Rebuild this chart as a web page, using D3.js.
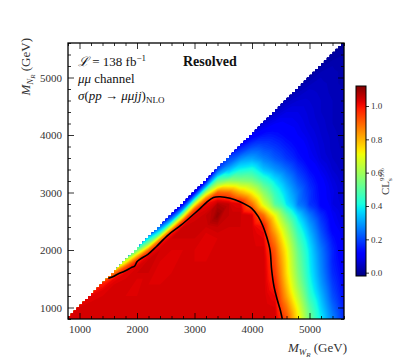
<!DOCTYPE html>
<html>
<head>
<meta charset="utf-8">
<script src="https://cdn.jsdelivr.net/npm/d3@7"></script>
<style>
  body { margin: 0; background: #fff; }
  svg text { font-family: "Liberation Serif", "DejaVu Serif", serif; }
  .tick line { stroke: #000; stroke-width: 0.8; }
  .tick text { fill: #333; }
</style>
</head>
<body>
<svg id="chart" width="407" height="359"></svg>
<script>
// W_R mass of each scan column (GeV)
const massWR = [800, 1000, 1200, 1400, 1600, 1800, 2000, 2200, 2400, 2600, 2800, 3000, 3200,
  3400, 3600, 3800, 4000, 4200, 4400, 4600, 4800, 5000, 5200, 5400, 5600];
// distance below the diagonal, M_WR - M_NR (GeV), of each value in a column
const massGap = [0, 100, 200, 300, 400, 600, 800, 1000, 1200, 1400, 1600, 1800, 2000, 2200,
  2400, 2600, 2800, 3000, 3200, 3400, 3600, 3800, 4000, 4200, 4400, 4600, 4800];
// CLs, one list per W_R column, from the diagonal down to M_NR = 800
const clsColumns = [
  [1.03],
  [1.03, 1.03, 1.03],
  [1.02, 1.03, 1.03, 1.03, 1.03],
  [0.99, 1.02, 1.03, 1.03, 1.03, 1.03],
  [0.88, 1.01, 1.03, 1.03, 1.03, 1.03, 1.03],
  [0.68, 0.92, 1.02, 1.03, 1.03, 1.03, 1.03, 1.03],
  [0.52, 0.78, 0.99, 1.03, 1.04, 1.02, 1.03, 1.03, 1.03],
  [0.38, 0.6, 0.88, 1.02, 1.05, 1.04, 1.03, 1.03, 1.03, 1.03],
  [0.25, 0.44, 0.8, 1.01, 1.04, 1.03, 1.02, 1.03, 1.03, 1.03, 1.03],
  [0.16, 0.35, 0.72, 0.99, 1.04, 1.03, 1.02, 1.03, 1.03, 1.03, 1.03, 1.03],
  [0.11, 0.3, 0.65, 0.93, 1.04, 1.04, 1.03, 1.03, 1.03, 1.03, 1.03, 1.03, 1.03],
  [0.1, 0.33, 0.68, 0.92, 1.03, 1.05, 1.04, 1.03, 1.03, 1.03, 1.03, 1.03, 1.03, 1.03],
  [0.12, 0.32, 0.62, 0.85, 1.01, 1.05, 1.04, 1.02, 1.02, 1.03, 1.03, 1.03, 1.03, 1.03, 1.03],
  [0.2, 0.33, 0.52, 0.68, 0.9, 1.07, 1.1, 1.05, 1.03, 1.03, 1.03, 1.03, 1.03, 1.03, 1.03, 1.03],
  [0.2, 0.25, 0.33, 0.42, 0.58, 0.89, 1.05, 1.05, 1.04, 1.03, 1.03, 1.03, 1.03, 1.03, 1.03, 1.03, 1.03],
  [0.14, 0.2, 0.27, 0.34, 0.4, 0.57, 0.8, 1.02, 1.05, 1.04, 1.03, 1.03, 1.03, 1.03, 1.03, 1.03, 1.03, 1.03],
  [0.1, 0.15, 0.2, 0.25, 0.3, 0.42, 0.55, 0.72, 0.88, 1.03, 1.035, 1.035, 1.035, 1.035, 1.035, 1.035, 1.035, 1.035, 1.035],
  [0.07, 0.1, 0.14, 0.17, 0.2, 0.26, 0.34, 0.46, 0.58, 0.68, 0.89, 1.0, 1.02, 1.035, 1.04, 1.04, 1.04, 1.04, 1.04, 1.04],
  [0.05, 0.075, 0.1, 0.12, 0.14, 0.18, 0.22, 0.29, 0.38, 0.45, 0.5, 0.71, 0.79, 0.86, 0.91, 0.93, 0.95, 0.98, 1.01, 1.03, 1.035],
  [0.04, 0.06, 0.08, 0.09, 0.1, 0.12, 0.15, 0.18, 0.24, 0.3, 0.35, 0.38, 0.52, 0.61, 0.67, 0.72, 0.74, 0.75, 0.78, 0.82, 0.88, 0.93],
  [0.03, 0.045, 0.06, 0.07, 0.08, 0.09, 0.1, 0.12, 0.14, 0.18, 0.22, 0.26, 0.26, 0.37, 0.43, 0.48, 0.52, 0.54, 0.56, 0.59, 0.64, 0.7, 0.74],
  [0.02, 0.035, 0.05, 0.055, 0.06, 0.065, 0.07, 0.08, 0.09, 0.1, 0.13, 0.16, 0.18, 0.18, 0.26, 0.31, 0.35, 0.38, 0.39, 0.4, 0.42, 0.45, 0.5, 0.54],
  [0.015, 0.03, 0.04, 0.042, 0.045, 0.05, 0.05, 0.055, 0.06, 0.065, 0.07, 0.09, 0.11, 0.12, 0.115, 0.17, 0.2, 0.23, 0.26, 0.27, 0.28, 0.3, 0.33, 0.36, 0.39],
  [0.01, 0.02, 0.03, 0.032, 0.035, 0.035, 0.04, 0.04, 0.04, 0.045, 0.045, 0.05, 0.06, 0.075, 0.085, 0.08, 0.1, 0.11, 0.14, 0.16, 0.16, 0.17, 0.19, 0.21, 0.24, 0.27],
  [0.005, 0.012, 0.02, 0.022, 0.025, 0.025, 0.03, 0.03, 0.03, 0.03, 0.035, 0.035, 0.035, 0.04, 0.05, 0.06, 0.06, 0.07, 0.075, 0.085, 0.095, 0.105, 0.11, 0.12, 0.13, 0.15, 0.17]
];
// the CLs = 1 exclusion line
const limitWR = [1500, 1580, 1670, 1790, 1900, 1960, 2000, 2050, 2190, 2335, 2540, 2770, 3000, 3100,
  3210, 3330, 3445, 3620, 3790, 3995, 4110, 4195, 4255, 4313, 4342, 4383, 4441, 4487, 4527];
const limitNR = [1510, 1535, 1583, 1635, 1693, 1722, 1795, 1838, 1925, 2057, 2260, 2435, 2635, 2725,
  2830, 2915, 2927, 2900, 2840, 2725, 2580, 2405, 2230, 2000, 1652, 1362, 1130, 974, 800];

const axisTicks = [1000, 2000, 3000, 4000, 5000];
const colorTicks = [0, 0.2, 0.4, 0.6, 0.8, 1.0];

const MASS_MIN = 800;
const MASS_MAX = 5600;
const CLS_MIN = -0.02;
const CLS_MAX = 1.12;
const PLOT = {left: 68, top: 43, size: 276};
const BAR = {x: 356, top: 86, width: 10, height: 190};

const svg = d3.select('#chart');
const defs = svg.append('defs');

const x = d3.scaleLinear().domain([MASS_MIN, MASS_MAX]).range([PLOT.left, PLOT.left + PLOT.size]);
const y = d3.scaleLinear().domain([MASS_MIN, MASS_MAX]).range([PLOT.top + PLOT.size, PLOT.top]);

// matplotlib "jet"
const jetR = d3.scaleLinear([0, 0.35, 0.66, 0.89, 1], [0, 0, 1, 1, 0.5]).clamp(true);
const jetG = d3.scaleLinear([0, 0.125, 0.375, 0.64, 0.91, 1], [0, 0, 1, 1, 0, 0]).clamp(true);
const jetB = d3.scaleLinear([0, 0.11, 0.34, 0.65, 1], [0.5, 1, 1, 0, 0]).clamp(true);
const clsNorm = d3.scaleLinear().domain([CLS_MIN, CLS_MAX]).range([0, 1]).clamp(true);
function jet(v) {
  const t = clsNorm(v);
  return d3.rgb(255 * jetR(t), 255 * jetG(t), 255 * jetB(t)).formatHex();
}

// staircase edge of the scanned triangle (M_NR <= M_WR)
const stairs = [[MASS_MAX, MASS_MIN], [MASS_MIN, MASS_MIN]];
for (let m = MASS_MIN; m < MASS_MAX; m += 50) stairs.push([m, m + 50], [m + 50, m + 50]);
defs.append('clipPath').attr('id', 'scan-clip')
    .append('path')
    .attr('d', d3.line().x(d => x(d[0])).y(d => y(d[1]))(stairs) + 'Z');

// grid in (W_R column, gap row); rows below M_NR = 800 repeat the last value
const nx = massWR.length;
const ny = massGap.length;
const values = new Array(nx * ny);
clsColumns.forEach((col, i) => {
  for (let k = 0; k < ny; k++) values[k * nx + i] = col[Math.min(k, col.length - 1)];
});
const colToMass = d3.scaleLinear().domain([0, nx - 1]).range([massWR[0], massWR[nx - 1]]);
const rowToGap = d3.scaleLinear().domain(d3.range(ny)).range(massGap);
const gridToScreen = d3.geoTransform({
  point(gx, gy) {
    const w = colToMass(gx - 0.5);
    const n = w - rowToGap(gy - 0.5);
    this.stream.point(x(w), y(n));
  }
});

const thresholds = d3.range(CLS_MIN, CLS_MAX, 0.01);
const bands = d3.contours().size([nx, ny]).thresholds(thresholds)(values);

svg.append('g')
    .attr('clip-path', 'url(#scan-clip)')
    .selectAll('path')
    .data(bands)
    .join('path')
    .attr('d', d3.geoPath(gridToScreen))
    .attr('fill', d => jet(d.value + 0.005));

// exclusion line
svg.append('path')
    .datum(d3.zip(limitWR, limitNR))
    .attr('d', d3.line().curve(d3.curveCatmullRom).x(d => x(d[0])).y(d => y(d[1])))
    .attr('fill', 'none')
    .attr('stroke', '#000')
    .attr('stroke-width', 1.6);

// axes, ticks pointing inward on all four sides
const minorTicks = d3.range(MASS_MIN, MASS_MAX + 1, 200).filter(v => v % 1000 !== 0);
const bottom = PLOT.top + PLOT.size;
const right = PLOT.left + PLOT.size;

function drawAxis(axis, translate, ticks, size, labelled) {
  const g = svg.append('g')
      .attr('transform', translate)
      .call(axis.tickValues(ticks).tickSizeInner(-size).tickSizeOuter(0).tickPadding(6)
          .tickFormat(labelled ? d3.format('d') : ''));
  g.select('.domain').remove();
  g.selectAll('text').attr('font-size', 11).attr('font-family', null);
  return g;
}
drawAxis(d3.axisBottom(x), `translate(0,${bottom})`, axisTicks, 6, true);
drawAxis(d3.axisBottom(x), `translate(0,${bottom})`, minorTicks, 3, false);
drawAxis(d3.axisTop(x), `translate(0,${PLOT.top})`, axisTicks, 6, false);
drawAxis(d3.axisTop(x), `translate(0,${PLOT.top})`, minorTicks, 3, false);
drawAxis(d3.axisLeft(y), `translate(${PLOT.left},0)`, axisTicks, 6, true);
drawAxis(d3.axisLeft(y), `translate(${PLOT.left},0)`, minorTicks, 3, false);
drawAxis(d3.axisRight(y), `translate(${right},0)`, axisTicks, 6, false);
drawAxis(d3.axisRight(y), `translate(${right},0)`, minorTicks, 3, false);

svg.append('rect')
    .attr('x', PLOT.left)
    .attr('y', PLOT.top)
    .attr('width', PLOT.size)
    .attr('height', PLOT.size)
    .attr('fill', 'none')
    .attr('stroke', '#000')
    .attr('stroke-width', 1.3);

// axis titles
const xTitle = svg.append('text')
    .attr('x', 347).attr('y', 352)
    .attr('text-anchor', 'end')
    .attr('font-size', 13)
    .attr('fill', '#333');
xTitle.append('tspan').attr('font-style', 'italic').text('M');
xTitle.append('tspan').attr('font-style', 'italic').attr('font-size', 9).attr('dy', 3).text('W');
xTitle.append('tspan').attr('font-style', 'italic').attr('font-size', 7).attr('dy', 2).text('R');
xTitle.append('tspan').attr('dy', -5).text(' (GeV)');

const yTitle = svg.append('text')
    .attr('transform', 'translate(30,38) rotate(-90)')
    .attr('text-anchor', 'end')
    .attr('font-size', 13)
    .attr('fill', '#333');
yTitle.append('tspan').attr('font-style', 'italic').text('M');
yTitle.append('tspan').attr('font-style', 'italic').attr('font-size', 9).attr('dy', 3).text('N');
yTitle.append('tspan').attr('font-style', 'italic').attr('font-size', 7).attr('dy', 2).text('R');
yTitle.append('tspan').attr('dy', -5).text(' (GeV)');

// annotations
const note = svg.append('g').attr('font-size', 13).attr('fill', '#111');
const line1 = note.append('text').attr('x', 78).attr('y', 66);
line1.append('tspan').attr('font-style', 'italic').text('ℒ');
line1.append('tspan').text(' = 138 fb');
line1.append('tspan').attr('font-size', 9).attr('dy', -5).text('−1');

const line2 = note.append('text').attr('x', 78).attr('y', 83);
line2.append('tspan').attr('font-style', 'italic').text('μμ');
line2.append('tspan').text(' channel');

const line3 = note.append('text').attr('x', 78).attr('y', 99.5);
line3.append('tspan').attr('font-style', 'italic').text('σ');
line3.append('tspan').text('(');
line3.append('tspan').attr('font-style', 'italic').text('pp');
line3.append('tspan').text(' → ');
line3.append('tspan').attr('font-style', 'italic').text('μμjj');
line3.append('tspan').text(')');
line3.append('tspan').attr('font-size', 9).attr('dy', 3).text('NLO');

note.append('text')
    .attr('x', 183).attr('y', 66)
    .attr('font-size', 14)
    .attr('font-weight', 'bold')
    .text('Resolved');

// colour bar
const gradient = defs.append('linearGradient')
    .attr('id', 'cls-gradient')
    .attr('x1', 0).attr('y1', 1).attr('x2', 0).attr('y2', 0);
gradient.selectAll('stop')
    .data(d3.range(0, 1.0001, 0.02))
    .join('stop')
    .attr('offset', d => d)
    .attr('stop-color', d => jet(clsNorm.invert(d)));

svg.append('rect')
    .attr('x', BAR.x).attr('y', BAR.top)
    .attr('width', BAR.width).attr('height', BAR.height)
    .attr('fill', 'url(#cls-gradient)')
    .attr('stroke', '#000')
    .attr('stroke-width', 1);

const barScale = d3.scaleLinear().domain([CLS_MIN, CLS_MAX]).range([BAR.top + BAR.height, BAR.top]);
const barAxis = svg.append('g')
    .attr('transform', `translate(${BAR.x + BAR.width},0)`)
    .call(d3.axisRight(barScale).tickValues(colorTicks).tickSize(3).tickPadding(2)
        .tickFormat(d3.format('.1f')));
barAxis.select('.domain').remove();
barAxis.selectAll('text').attr('font-size', 9).attr('font-family', null);

// CL_s^95% written bottom to top, with stacked sub/superscript
const barTitle = svg.append('g')
    .attr('transform', `translate(389,${BAR.top + BAR.height / 2}) rotate(-90)`)
    .attr('fill', '#333');
barTitle.append('text').attr('x', -14).attr('font-size', 11).text('CL');
barTitle.append('text').attr('x', 0).attr('y', 2.5).attr('font-size', 7).text('s');
barTitle.append('text').attr('x', 0).attr('y', -5).attr('font-size', 7).text('95%');
</script>
</body>
</html>
